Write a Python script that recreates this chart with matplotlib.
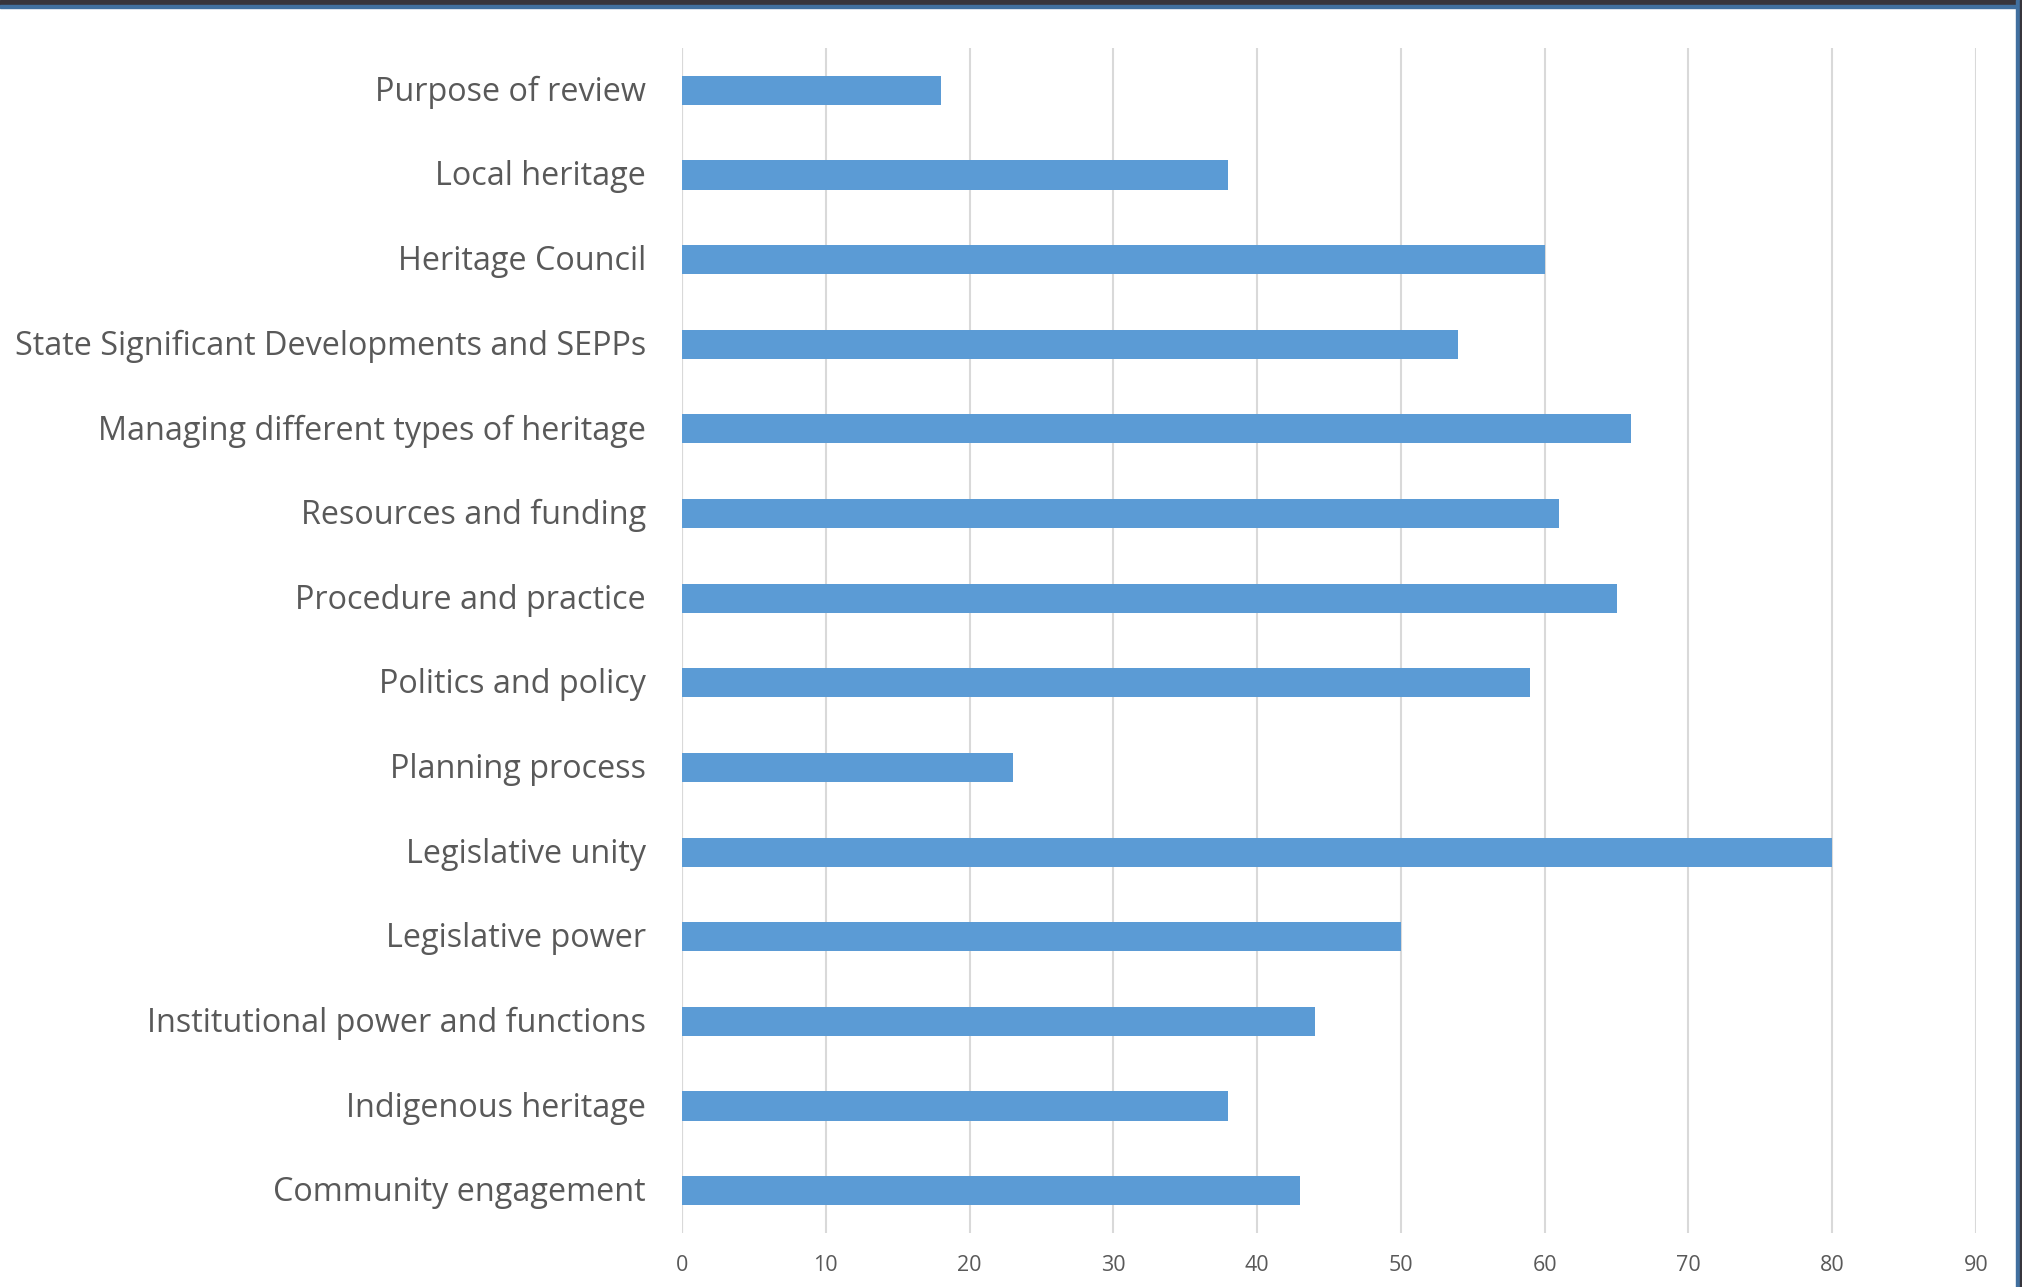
import matplotlib
matplotlib.use("Agg")
import matplotlib.pyplot as plt
import matplotlib.transforms as mtransforms
from matplotlib.patches import Rectangle

# categories listed bottom to top, as excel draws them
categories = [
    "Community engagement",
    "Indigenous heritage",
    "Institutional power and functions",
    "Legislative power",
    "Legislative unity",
    "Planning process",
    "Politics and policy",
    "Procedure and practice",
    "Resources and funding",
    "Managing different types of heritage",
    "State Significant Developments and SEPPs",
    "Heritage Council",
    "Local heritage",
    "Purpose of review",
]
counts = [43, 38, 44, 50, 80, 23, 59, 65, 61, 66, 54, 60, 38, 18]
xticks = [0, 10, 20, 30, 40, 50, 60, 70, 80, 90]

BAR = "#5B9BD5"
GRID = "#D9D9D9"
TEXT = "#595959"

plt.rcParams['font.family'] = ['Open Sans', 'DejaVu Sans']

fig = plt.figure(figsize=(20.22, 12.87), dpi=100)
ax = fig.add_axes([682/2022, 1 - 1233/1287, (1976 - 682)/2022, (1233 - 48)/1287])

ypos = list(range(len(categories)))
ax.barh(ypos, counts, height=0.345, color=BAR, zorder=3)

ax.set_xlim(0, 90)
ax.set_ylim(-0.5, len(categories) - 0.5)
ax.set_xticks(xticks)
ax.set_yticks(ypos)
ax.set_yticklabels(categories)

ax.grid(axis='x', color=GRID, linewidth=1.5, zorder=0)
for s in ax.spines.values():
    s.set_visible(False)
ax.axvline(0, color=GRID, linewidth=1.5, zorder=1)

ax.tick_params(axis='y', length=0, pad=26, labelsize=23.3, labelcolor=TEXT)
ax.tick_params(axis='x', length=0, pad=16, labelsize=15.5, labelcolor=TEXT)

# nudge category labels up a little
up = mtransforms.ScaledTranslation(0, 2/100, fig.dpi_scale_trans)
for lab in ax.get_yticklabels():
    lab.set_transform(lab.get_transform() + up)

# window frame from the screenshot
fig.patches.append(Rectangle((0, 1 - 5/1287), 1, 5/1287, transform=fig.transFigure,
                             color="#37353C", zorder=10))
fig.patches.append(Rectangle((0, 1 - 8/1287), 1, 3/1287, transform=fig.transFigure,
                             color="#41709F", zorder=10))
fig.patches.append(Rectangle((2016/2022, 0), 4/2022, 1, transform=fig.transFigure,
                             color="#41709F", zorder=10))
fig.patches.append(Rectangle((2020/2022, 0), 2/2022, 1, transform=fig.transFigure,
                             color="#37353C", zorder=10))

fig.savefig("out.png", dpi=100)
